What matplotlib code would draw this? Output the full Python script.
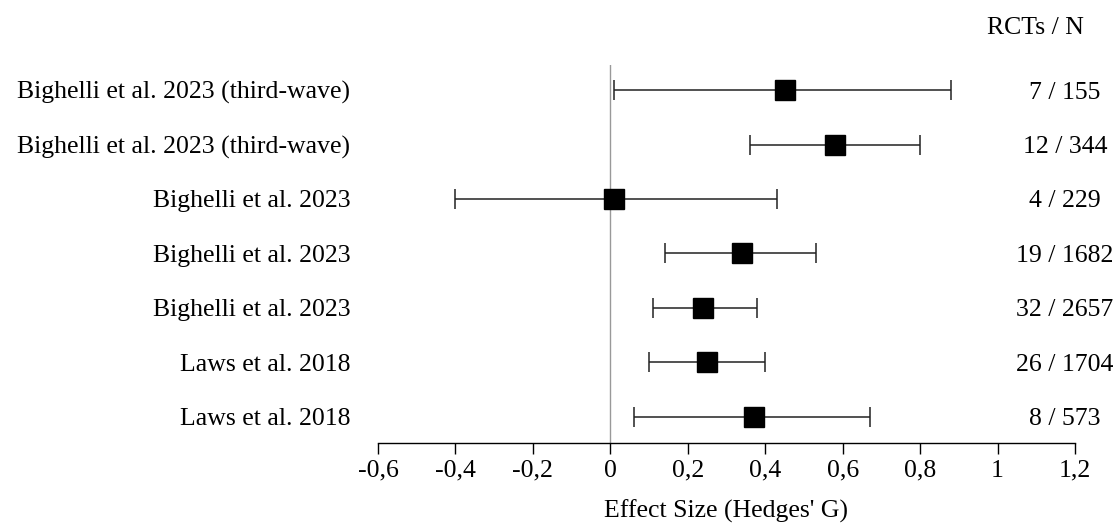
import matplotlib.pyplot as plt
import numpy as np

plt.rcParams['font.family'] = ['Liberation Serif', 'DejaVu Serif']

studies = ["Bighelli et al. 2023 (third-wave)",
           "Bighelli et al. 2023 (third-wave)",
           "Bighelli et al. 2023",
           "Bighelli et al. 2023",
           "Bighelli et al. 2023",
           "Laws et al. 2018",
           "Laws et al. 2018"]
effect = [0.45, 0.58, 0.01, 0.34, 0.24, 0.25, 0.37]
ci_low = [0.01, 0.36, -0.40, 0.14, 0.11, 0.10, 0.06]
ci_high = [0.88, 0.80, 0.43, 0.53, 0.38, 0.40, 0.67]
rcts_n = ["7 / 155", "12 / 344", "4 / 229", "19 / 1682",
          "32 / 2657", "26 / 1704", "8 / 573"]
xticks = [-0.6, -0.4, -0.2, 0, 0.2, 0.4, 0.6, 0.8, 1, 1.2]

fs = 18.5
fig = plt.figure(figsize=(11.18, 5.27), dpi=100)
ax = fig.add_axes([378/1118, 1-443/527, (1075-378)/1118, (443-65)/527])

ypos = np.arange(len(studies))[::-1] + 1
eff = np.array(effect)
err = [eff - np.array(ci_low), np.array(ci_high) - eff]

ax.axvline(0, color='#999999', lw=1, zorder=1)
ax.errorbar(eff, ypos, xerr=err, fmt='none', ecolor='#222222',
            elinewidth=1.1, capsize=7.5, capthick=1.1, zorder=2)
ax.plot(eff, ypos, 's', color='black', markersize=14.5, zorder=3)

ax.set_xlim(-0.6, 1.2)
ax.set_ylim(0.52, 7.46)
ax.set_xticks(xticks)
ax.set_xticklabels([("%g" % t).replace('.', ',') for t in xticks], fontsize=fs)
ax.set_yticks(ypos)
ax.set_yticklabels(studies, fontsize=fs)
ax.tick_params(axis='y', length=0, pad=20)
ax.tick_params(axis='x', length=8, width=1, direction='out', pad=4)

for s in ['left', 'right', 'top']:
    ax.spines[s].set_visible(False)
ax.spines['bottom'].set_linewidth(1)

ax.set_xlabel("Effect Size (Hedges' G)", fontsize=fs, labelpad=13)

# RCTs / N column on the right
for y, t in zip(ypos, rcts_n):
    ax.annotate(t, xy=(1065/1118, y), xycoords=('figure fraction', 'data'),
                fontsize=fs, ha='center', va='center_baseline')
fig.text(1035/1118, 1 - 25/527, "RCTs / N", fontsize=fs,
         ha='center', va='center_baseline')

fig.savefig("out.png", dpi=100)
